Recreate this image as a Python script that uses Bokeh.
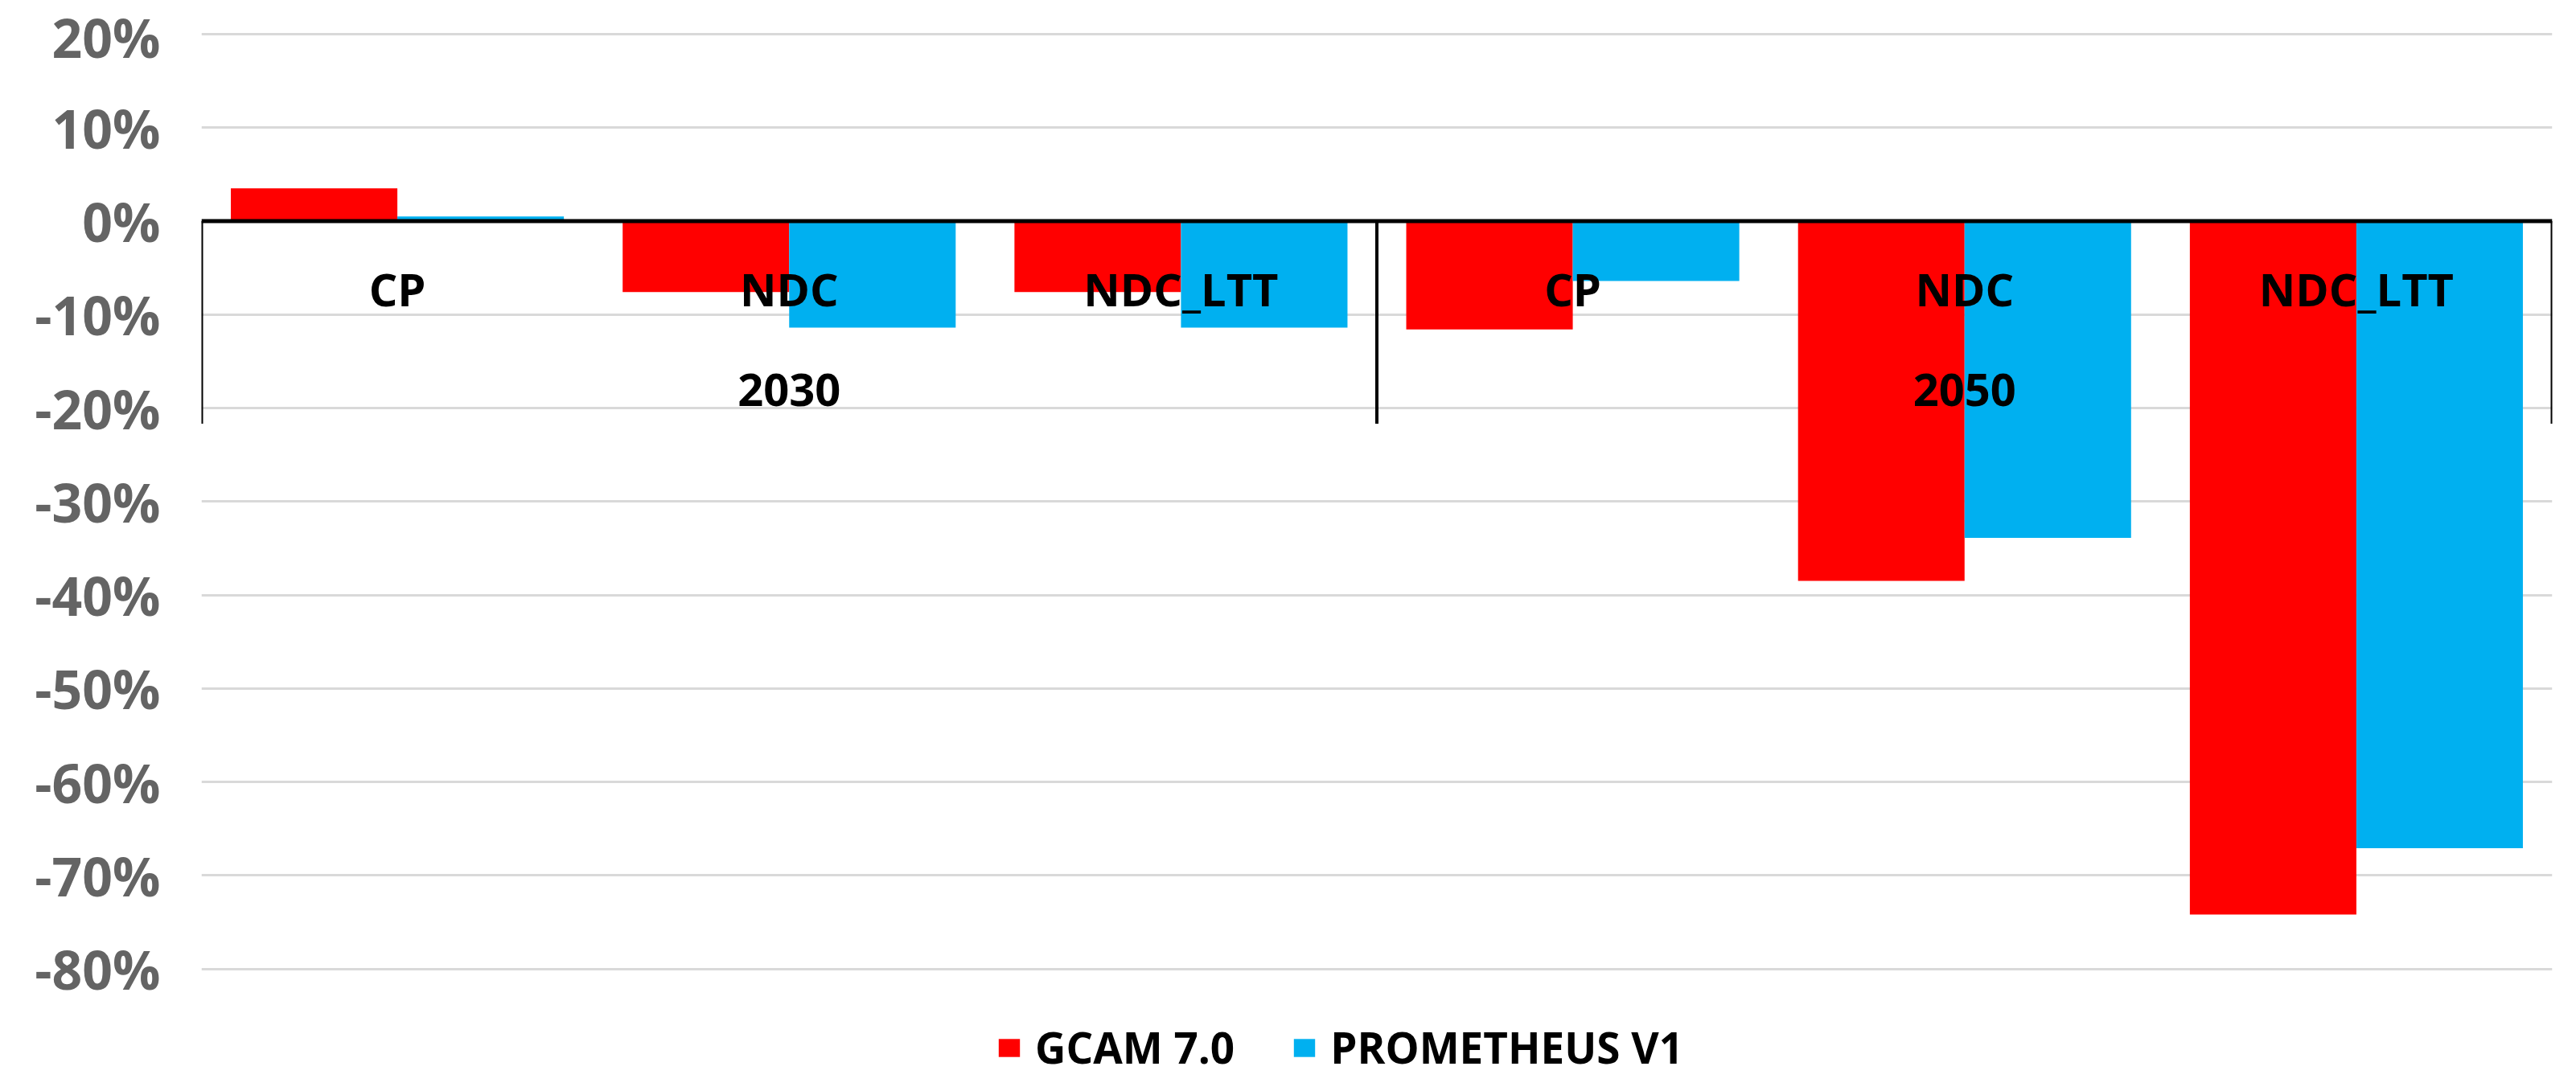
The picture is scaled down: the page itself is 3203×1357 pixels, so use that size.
from bokeh.plotting import figure
from bokeh.models import (FactorRange, Range1d, ColumnDataSource, FixedTicker,
                          NumeralTickFormatter, Span, Legend, LegendItem)
from bokeh.transform import dodge
from bokeh.core.properties import value
from bokeh.embed import file_html
from bokeh.resources import INLINE

# ---------------- data ----------------
years = ["2030", "2050"]
scenarios = ["CP", "NDC", "NDC_LTT"]
series_names = ["GCAM 7.0", "PROMETHEUS V1"]
gcam = [0.035, -0.076, -0.076, -0.116, -0.385, -0.742]
prometheus = [0.005, -0.114, -0.114, -0.064, -0.339, -0.671]
y_ticks = [-0.8, -0.7, -0.6, -0.5, -0.4, -0.3, -0.2, -0.1, 0.0, 0.1, 0.2]

# ---------------- styling ----------------
FONT = "Open Sans"
RED = "#FF0000"
BLUE = "#00B0F0"

factors = [(y, s) for y in years for s in scenarios]
src = ColumnDataSource(dict(x=factors, gcam=gcam, prom=prometheus))

px_per_unit = 1162.5          # pixels for 100 %
frame_h = 1309
y_end = 0.2 + 10 / px_per_unit
y_start = y_end - frame_h / px_per_unit

p = figure(width=3187, height=1341, output_backend="svg", toolbar_location=None,
           x_range=FactorRange(*factors, group_padding=0, factor_padding=0,
                               subgroup_padding=0, range_padding=0),
           y_range=Range1d(y_start, y_end),
           x_axis_location=None, min_border_left=250, min_border_right=14,
           min_border_top=32, min_border_bottom=0)
p.outline_line_color = None
p.background_fill_color = "white"
p.border_fill_color = "white"
p.xgrid.grid_line_color = None
p.ygrid.grid_line_color = "#D9D9D9"
p.ygrid.grid_line_width = 3

ax = p.yaxis[0]
ax.ticker = FixedTicker(ticks=y_ticks)
ax.formatter = NumeralTickFormatter(format="0%")
ax.axis_line_color = None
ax.major_tick_line_color = None
ax.minor_tick_line_color = None
ax.major_tick_out = 0
ax.major_tick_in = 0
ax.major_label_standoff = 51
ax.major_label_text_font = FONT
ax.major_label_text_font_style = "bold"
ax.major_label_text_font_size = "66px"
ax.major_label_text_color = "#646464"

bw = 0.425
r1 = p.vbar(x=dodge("x", -bw / 2, range=p.x_range), top="gcam", bottom=0,
            width=bw, source=src, fill_color=RED, line_color=None)
r2 = p.vbar(x=dodge("x", bw / 2, range=p.x_range), top="prom", bottom=0,
            width=bw, source=src, fill_color=BLUE, line_color=None)

# category axis crossing at zero (Excel style)
p.add_layout(Span(location=0, dimension="width", line_color="black", line_width=5))

n = len(scenarios)
bounds = [i * n for i in range(len(years) + 1)]
sep_bottom = -252 / px_per_unit
p.segment(x0=bounds, x1=bounds, y0=[0] * len(bounds), y1=[sep_bottom] * len(bounds),
          line_color="black", line_width=4)

lab_src = ColumnDataSource(dict(x=factors, label=[f[1] for f in factors]))
p.text(x="x", y=-84 / px_per_unit, text="label", source=lab_src,
       text_font=value(FONT), text_font_style="bold", text_font_size="56px",
       text_color="black", text_align="center", text_baseline="middle")
yr_src = ColumnDataSource(dict(x=years, label=years))
p.text(x="x", y=-210 / px_per_unit, text="label", source=yr_src,
       text_font=value(FONT), text_font_style="bold", text_font_size="56px",
       text_color="black", text_align="center", text_baseline="middle")

legend = Legend(items=[LegendItem(label=series_names[0], renderers=[r1]),
                       LegendItem(label=series_names[1], renderers=[r2])],
                location=(988, 2), orientation="horizontal",
                label_text_font=FONT, label_text_font_style="bold",
                label_text_font_size="53px", label_text_color="black",
                label_text_line_height=1.0, label_height=20,
                glyph_width=33, glyph_height=28, label_standoff=16, spacing=70,
                padding=0, margin=0, border_line_color=None,
                background_fill_alpha=0)
p.add_layout(legend, "center")

open("out.html", "w").write(file_html(p, INLINE))
